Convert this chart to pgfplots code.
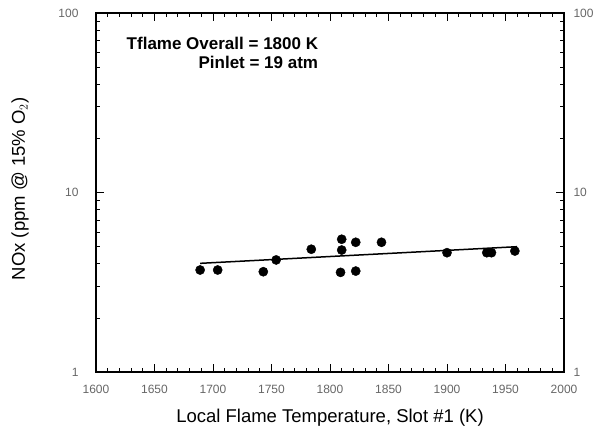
\documentclass[border=0pt]{standalone}
\usepackage{pgfplots}
\pgfplotsset{compat=1.18}
\usepackage{fontspec}
\setmainfont{Liberation Sans}
\usetikzlibrary{calc}
\begin{document}
\begin{tikzpicture}
\begin{axis}[
  scale only axis,
  width=468pt, height=359pt,
  xmin=1600, xmax=2000,
  ymode=log, ymin=1, ymax=100,
  xtick={1600,1650,...,2000},
  minor x tick num=4,
  ytick={1,10,100},
  yticklabels={1,10,100},
  log ticks with fixed point,
  tick align=inside,
  major tick length=8pt,
  minor tick length=4pt,
  axis line style={line width=1.1pt},
  every tick/.style={black, line width=0.9pt},
  ytick pos=both, xtick pos=both,
  /pgf/number format/assume math mode=true,
  /pgf/number format/1000 sep={},
  tick label style={font=\fontsize{12}{13}\selectfont, text=black!60},
  xticklabel style={yshift=-10pt},
  yticklabel style={xshift=-14pt},
  xlabel={Local Flame Temperature, Slot \#1 (K)},
  ylabel={NOx (ppm @ 15\% O$_2$)},
  label style={font=\fontsize{18.5}{22}\selectfont},
  xlabel style={at={(axis description cs:0.5,-0.126)}, anchor=center},
  ylabel style={at={(axis description cs:-0.162,0.51)}, anchor=center},
  clip=false,
]
\addplot[only marks, mark=*, mark size=4.6pt, black] coordinates {
(1689,3.70) (1704,3.70) (1743,3.62) (1754,4.21) (1784,4.83)
(1810,5.49) (1810,4.78) (1809,3.59) (1822,5.28) (1822,3.65)
(1844,5.28) (1900,4.62) (1934,4.62) (1938,4.62) (1958,4.72)
};
\addplot[black, line width=1.5pt] coordinates {(1689,4.03) (1960,4.99)};
\node[anchor=east, align=right, inner sep=0pt, font=\bfseries\fontsize{17}{19.5}\selectfont] at (axis cs:1790,60) {Tflame Overall = 1800 K\\Pinlet = 19 atm};
\end{axis}
\begin{axis}[
  scale only axis,
  width=468pt, height=359pt,
  xmin=1600, xmax=2000,
  ymode=log, ymin=1, ymax=100,
  axis x line=none,
  axis y line*=right,
  ytick={1,10,100},
  yticklabels={1,10,100},
  major tick length=0pt,
  minor tick length=0pt,
  axis line style={draw=none},
  tick label style={font=\fontsize{12}{13}\selectfont, text=black!60},
  yticklabel style={xshift=6pt},
]
\end{axis}
\pgfresetboundingbox
\path ($(current axis.south west)+(-96pt,-63pt)$) rectangle ($(current axis.north east)+(30pt,13pt)$);
\end{tikzpicture}
\end{document}
